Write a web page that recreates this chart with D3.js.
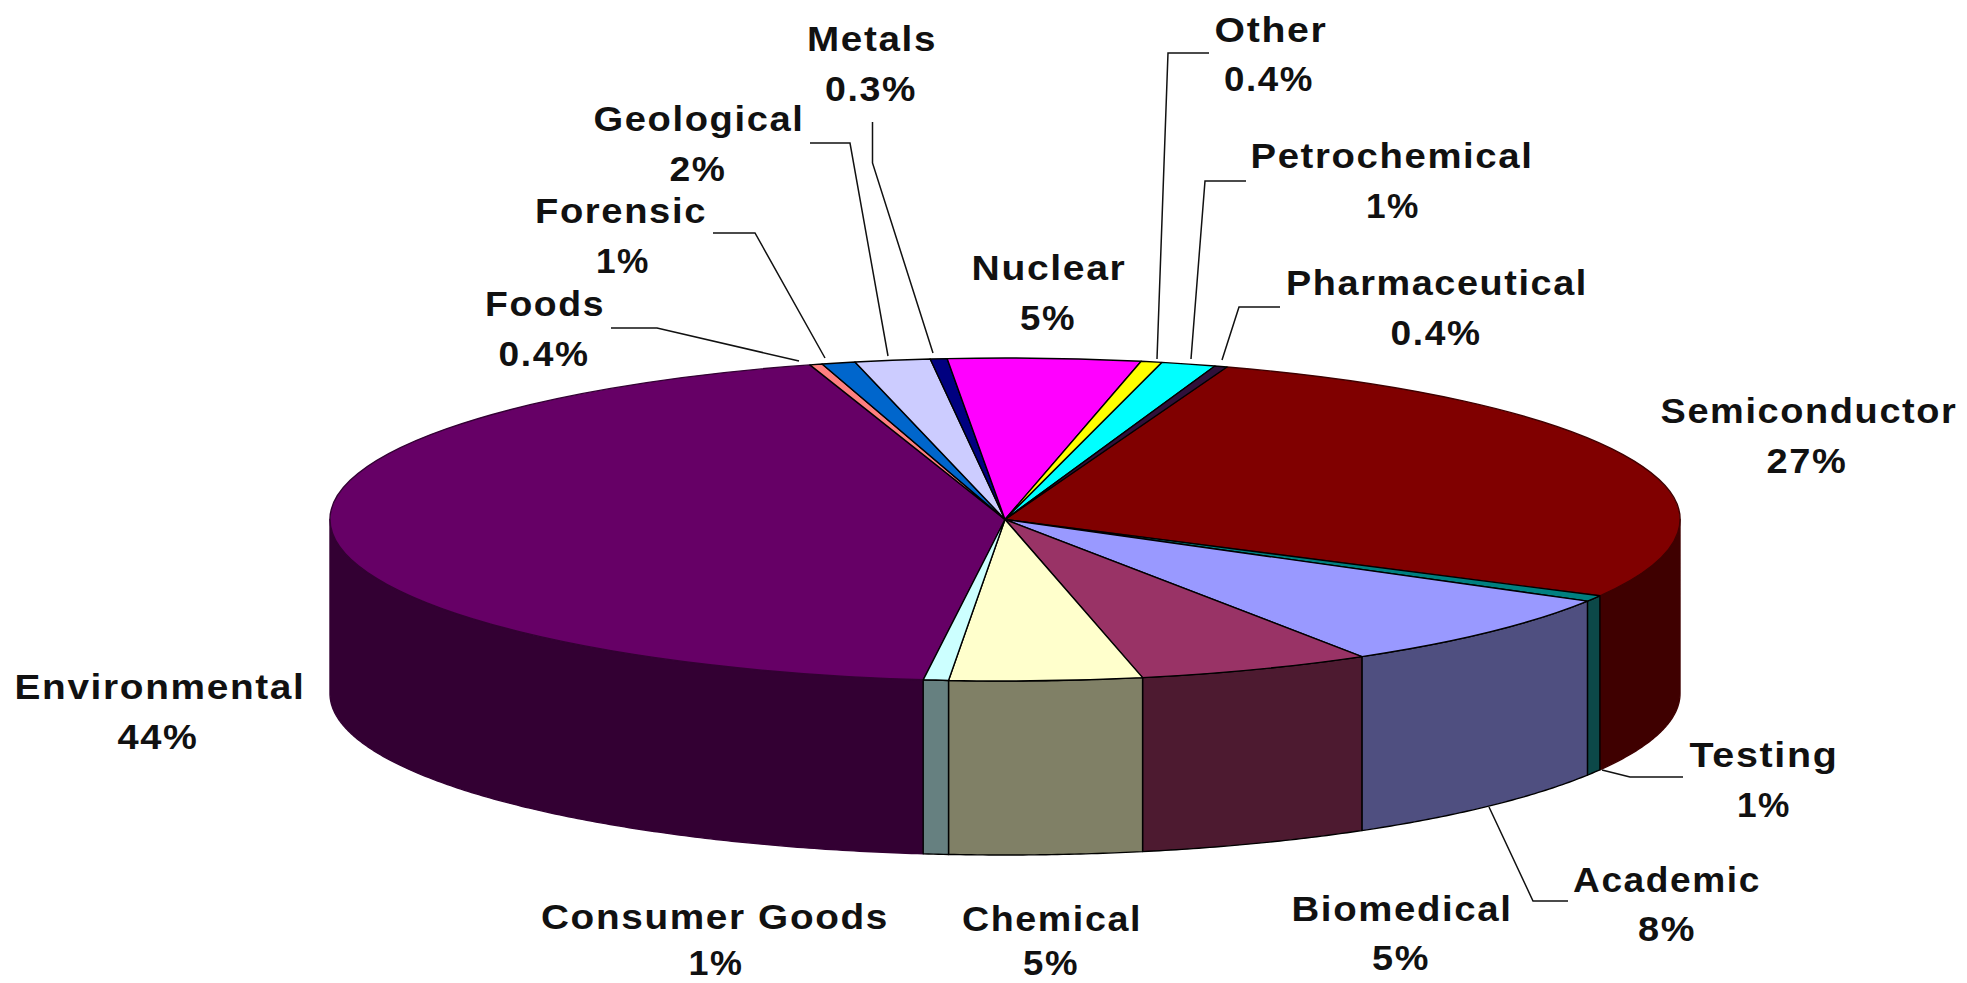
<!DOCTYPE html>
<html>
<head>
<meta charset="utf-8">
<script src="https://cdnjs.cloudflare.com/ajax/libs/d3/7.8.5/d3.min.js"></script>
<style>
html,body{margin:0;padding:0;background:#fff;overflow:hidden}
svg{display:block}
text{font-family:"Liberation Sans",Arial,sans-serif;font-weight:700;fill:#111;letter-spacing:1.5px}
</style>
</head>
<body>
<svg id="chart" width="1967" height="983"></svg>
<script>
// Data, clockwise from the Semiconductor slice
const categories = ["Semiconductor","Testing","Academic","Biomedical","Chemical","Consumer Goods","Environmental","Foods","Forensic","Geological","Metals","Nuclear","Other","Petrochemical","Pharmaceutical"];
const values     = [27.5,0.6,7.7,5.6,4.6,0.6,43.4,0.3,0.8,1.8,0.4,4.6,0.5,1.3,0.3];
const percentLabels = ["27%","1%","8%","5%","5%","1%","44%","0.4%","1%","2%","0.3%","5%","0.4%","1%","0.4%"];
const topColors  = ["#800000","#008080","#9999FF","#993366","#FFFFCC","#CCFFFF","#660066","#FF8080","#0066CC","#CCCCFF","#000080","#FF00FF","#FFFF00","#00FFFF","#30103A"];
const wallColors = ["#3f0000","#0c4848","#4F4F80","#4D1A30","#808066","#668080","#330033","#804040","#003366","#666680","#000040","#800080","#808000","#008080","#400040"];
const softEdged  = ["Semiconductor","Environmental"];

// Layout
const W = 1967, H = 983;
const cx = 1005, cy = 519.5, rx = 675, ry = 161.5, depth = 174;
const startDeg = 19.2;
const fontSize = 35;
// per category: [name centre x, name y, name width, pct centre x, pct y, pct width]
const labelLayout = {
  "Semiconductor":[1809,410,297,1807,460,81],
  "Testing":[1764,754,149,1764,804,54],
  "Academic":[1667,879,188,1667,928,58],
  "Biomedical":[1402,908,221,1401,957,58],
  "Chemical":[1052,918,180,1051,962,56],
  "Consumer Goods":[715,916,348,716,962,55],
  "Environmental":[160,686,291,158,736,81],
  "Foods":[545,303,120,544,353,91],
  "Forensic":[621,210,172,623,260,54],
  "Geological":[699,118,211,698,168,57],
  "Metals":[872,38,130,871,88,92],
  "Nuclear":[1049,267,155,1048,317,56],
  "Other":[1271,29,113,1269,78,90],
  "Petrochemical":[1392,155,283,1393,205,54],
  "Pharmaceutical":[1437,282,302,1436,332,91]
};
const leaderLayout = [
  [[611,328],[657,328],[799,361]],
  [[713,233],[755,233],[825,358]],
  [[810,143],[850,143],[888,356]],
  [[872.5,122],[872.5,163],[933,353]],
  [[1209,53],[1168,53],[1157,359]],
  [[1246,181],[1205,181],[1191,359]],
  [[1280,307],[1239,307],[1222,360]],
  [[1683,777],[1630,777],[1602,770]],
  [[1568,901],[1533,901],[1489,807]]
];

const svg = d3.select("#chart");
const x = d3.scaleLinear().domain([-1,1]).range([cx-rx,cx+rx]);
const y = d3.scaleLinear().domain([-1,1]).range([cy-ry,cy+ry]);

const rad = d => d*Math.PI/180;
const pie = d3.pie().sort(null).value(d=>d.value)
  .startAngle(rad(startDeg)).endAngle(rad(startDeg+360));
const slices = pie(categories.map((name,i)=>({name,value:values[i],top:topColors[i],wall:wallColors[i],pct:percentLabels[i],soft:softEdged.includes(name)})));
const drawOrder = slices.slice().sort((a,b)=>d3.descending(+a.data.soft,+b.data.soft));

// Side walls: only the part of each slice facing the viewer (90deg..270deg)
const line = d3.line().x(d=>d[0]).y(d=>d[1]);
const rimPoint = (t,dz) => [x(Math.sin(t)), y(-Math.cos(t))+dz];
function wallPath(s){
  const a0 = Math.max(s.startAngle,Math.PI/2), a1 = Math.min(s.endAngle,3*Math.PI/2);
  if(a1<=a0) return null;
  const n = Math.max(2,Math.ceil((a1-a0)/rad(0.5)));
  const ts = d3.range(n+1).map(i=>a0+(a1-a0)*i/n);
  const pts = ts.map(t=>rimPoint(t,0)).concat(ts.slice().reverse().map(t=>rimPoint(t,depth)));
  return line(pts)+"Z";
}
svg.append("g").selectAll("path").data(drawOrder.filter(s=>wallPath(s))).join("path")
  .attr("d",wallPath).attr("fill",d=>d.data.wall)
  .attr("stroke",d=>d.data.soft?d.data.wall:"#000").attr("stroke-width",1.4).attr("stroke-linejoin","round");

// Top face
const arc = d3.arc().innerRadius(0).outerRadius(100);
svg.append("g").attr("transform",`translate(${cx},${cy}) scale(${rx/100},${ry/100})`)
  .selectAll("path").data(drawOrder).join("path")
  .attr("d",arc).attr("fill",d=>d.data.top)
  .attr("stroke",d=>d.data.soft?d.data.wall:"#000").attr("stroke-width",1.4)
  .attr("vector-effect","non-scaling-stroke").attr("stroke-linejoin","round");

// Leader lines
svg.append("g").selectAll("path").data(leaderLayout).join("path")
  .attr("d",d=>line(d)).attr("fill","none").attr("stroke","#111").attr("stroke-width",1.5);

// Labels
const lab = svg.append("g").selectAll("g").data(slices).join("g").attr("font-size",fontSize);
const baseline = yc => yc + fontSize*0.36;
lab.append("text").text(d=>d.data.name)
  .attr("text-anchor","middle")
  .attr("x",d=>labelLayout[d.data.name][0])
  .attr("y",d=>baseline(labelLayout[d.data.name][1]))
  .attr("textLength",d=>labelLayout[d.data.name][2])
  .attr("lengthAdjust","spacingAndGlyphs");
lab.append("text").text(d=>d.data.pct)
  .attr("text-anchor","middle")
  .attr("x",d=>labelLayout[d.data.name][3])
  .attr("y",d=>baseline(labelLayout[d.data.name][4]))
  .attr("textLength",d=>labelLayout[d.data.name][5])
  .attr("lengthAdjust","spacingAndGlyphs");
</script>
</body>
</html>
